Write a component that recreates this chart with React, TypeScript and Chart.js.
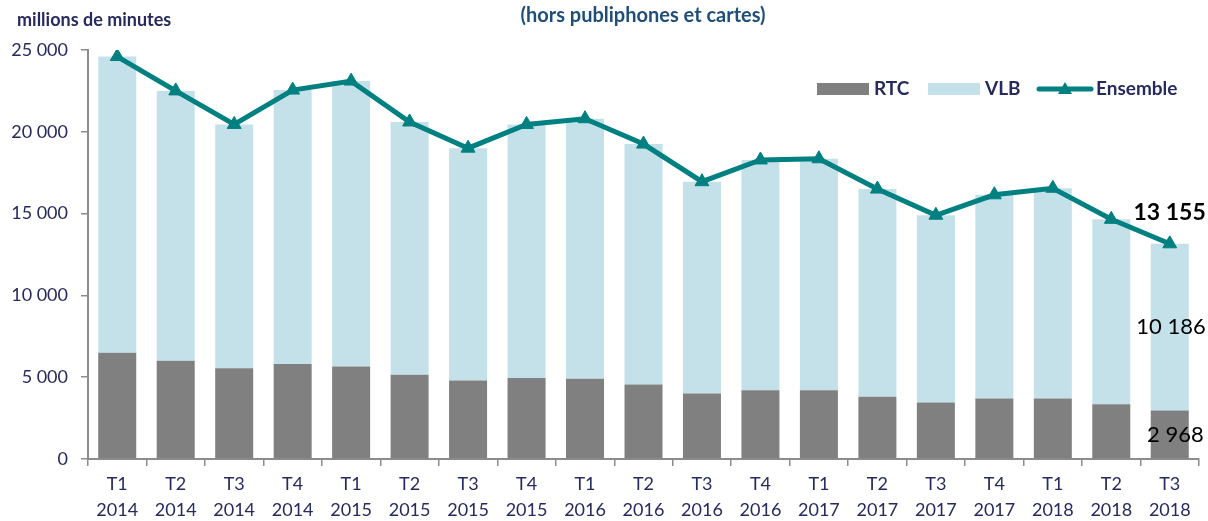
import React, { useEffect, useRef } from "react";
import { Chart, registerables } from "chart.js";

Chart.register(...registerables);

const quarters = ["T1", "T2", "T3", "T4", "T1", "T2", "T3", "T4", "T1", "T2", "T3", "T4", "T1", "T2", "T3", "T4", "T1", "T2", "T3"];
const years = ["2014", "2014", "2014", "2014", "2015", "2015", "2015", "2015", "2016", "2016", "2016", "2016", "2017", "2017", "2017", "2017", "2018", "2018", "2018"];

const rtc = [6500, 6000, 5550, 5800, 5650, 5150, 4800, 4950, 4900, 4550, 4000, 4200, 4200, 3800, 3450, 3700, 3700, 3350, 2968];
const vlb = [18100, 16500, 14900, 16750, 17450, 15450, 14200, 15500, 15900, 14700, 12950, 14080, 14150, 12700, 11450, 12450, 12850, 11300, 10186];
const ensemble = [24600, 22500, 20450, 22550, 23100, 20600, 19000, 20450, 20800, 19250, 16950, 18280, 18350, 16500, 14900, 16150, 16550, 14650, 13155];

const yTicks = [0, 5000, 10000, 15000, 20000, 25000];

const NAVY = "#262a5e";
const TEAL = "#008080";
const GREY = "#808080";
const LIGHT = "#c4e1ea";
const AXIS = "#8c8c8c";
const FONT = "Lato";

function fmt(v: number): string {
  const s = Math.round(v).toString();
  return s.replace(/\B(?=(\d{3})+(?!\d))/g, " ");
}

const overlayPlugin = {
  id: "overlay",
  afterDraw(chart: any) {
    const ctx = chart.ctx as CanvasRenderingContext2D;
    ctx.save();
    // titles
    ctx.fillStyle = NAVY;
    ctx.font = `bold 18px ${FONT}`;
    ctx.textAlign = "left";
    ctx.textBaseline = "middle";
    ctx.fillText("millions de minutes", 17, 20);
    ctx.fillStyle = "#1f4e79";
    ctx.textAlign = "center";
    ctx.font = `bold 20px ${FONT}`;
    ctx.fillText("(hors publiphones et cartes)", 643, 16);

    // legend
    ctx.textAlign = "left";
    ctx.font = `bold 19px ${FONT}`;
    const ly = 89;
    ctx.fillStyle = GREY;
    ctx.fillRect(817, ly - 6, 52, 12);
    ctx.fillStyle = NAVY;
    ctx.fillText("RTC", 874, ly);
    ctx.fillStyle = LIGHT;
    ctx.fillRect(928, ly - 6, 52, 12);
    ctx.fillStyle = NAVY;
    ctx.fillText("VLB", 985, ly);
    ctx.strokeStyle = TEAL;
    ctx.lineWidth = 5;
    ctx.lineCap = "round";
    ctx.beginPath();
    ctx.moveTo(1039, ly);
    ctx.lineTo(1091, ly);
    ctx.stroke();
    ctx.fillStyle = TEAL;
    ctx.beginPath();
    ctx.moveTo(1065, ly - 7);
    ctx.lineTo(1072, ly + 5);
    ctx.lineTo(1058, ly + 5);
    ctx.closePath();
    ctx.fill();
    ctx.fillStyle = NAVY;
    ctx.fillText("Ensemble", 1096, ly);

    // data labels on last bar
    const xs = chart.scales.x;
    const ys = chart.scales.y;
    const last = ensemble.length - 1;
    const xr = xs.getPixelForValue(last) + 36;
    ctx.textAlign = "right";
    ctx.fillStyle = "#000";
    ctx.font = `bold 23px ${FONT}`;
    ctx.fillText(fmt(ensemble[last]), xr, ys.getPixelForValue(ensemble[last]) - 31);
    ctx.font = `22px ${FONT}`;
    ctx.fillText(fmt(vlb[last]), xr, ys.getPixelForValue(rtc[last] + vlb[last] / 2));
    ctx.fillText(fmt(rtc[last]), xr - 2, ys.getPixelForValue(rtc[last] / 2));
    ctx.restore();
  },
};

export default function App() {
  const ref = useRef<HTMLCanvasElement>(null);
  useEffect(() => {
    if (!ref.current) return;
    const labels = quarters.map((q, i) => [q, years[i]]);
    const chart = new Chart(ref.current, {
      type: "bar",
      data: {
        labels,
        datasets: [
          {
            type: "line",
            label: "Ensemble",
            data: ensemble,
            borderColor: TEAL,
            backgroundColor: TEAL,
            borderWidth: 5,
            pointStyle: "triangle",
            pointRadius: 8,
            pointBackgroundColor: TEAL,
            pointBorderColor: TEAL,
            pointBorderWidth: 1,
            stack: "line",
            order: 0,
            tension: 0,
          } as any,
          {
            type: "bar",
            label: "RTC",
            data: rtc,
            backgroundColor: GREY,
            stack: "bars",
            order: 1,
            barPercentage: 0.65,
            categoryPercentage: 1,
          },
          {
            type: "bar",
            label: "VLB",
            data: vlb,
            backgroundColor: LIGHT,
            stack: "bars",
            order: 2,
            barPercentage: 0.65,
            categoryPercentage: 1,
          },
        ],
      },
      options: {
        responsive: false,
        animation: false,
        devicePixelRatio: 1,
        layout: { padding: { top: 50, right: 5, left: 0, bottom: 0 } },
        plugins: {
          legend: { display: false },
          tooltip: { enabled: false },
          title: { display: false },
        },
        scales: {
          x: {
            stacked: true,
            grid: {
              display: true,
              drawOnChartArea: false,
              drawTicks: true,
              tickLength: 7,
              color: AXIS,
              lineWidth: 1.5,
              offset: true,
            },
            border: { display: true, color: AXIS, width: 2 },
            ticks: {
              color: NAVY,
              font: { family: FONT, size: 18, lineHeight: 1.4 },
              padding: 6,
              maxRotation: 0,
              autoSkip: false,
            },
            afterFit: (s: any) => {
              s.height = 62;
            },
          },
          y: {
            stacked: true,
            min: 0,
            max: 25000,
            afterBuildTicks: (s: any) => {
              s.ticks = yTicks.map((v) => ({ value: v }));
            },
            ticks: {
              color: NAVY,
              font: { family: FONT, size: 18 },
              padding: 13,
              callback: (v: any) => fmt(Number(v)),
            },
            grid: {
              display: true,
              drawOnChartArea: false,
              drawTicks: true,
              tickLength: 7,
              color: AXIS,
              lineWidth: 1.5,
            },
            border: { display: true, color: AXIS, width: 2 },
            afterFit: (s: any) => {
              s.width = 88;
            },
          },
        },
      },
      plugins: [overlayPlugin],
    });
    return () => chart.destroy();
  }, []);
  return (
    <div style={{ position: "absolute", left: 0, top: 0, width: 1208, height: 521, background: "#fff" }}>
      <canvas ref={ref} width={1208} height={521} style={{ display: "block" }} />
    </div>
  );
}
